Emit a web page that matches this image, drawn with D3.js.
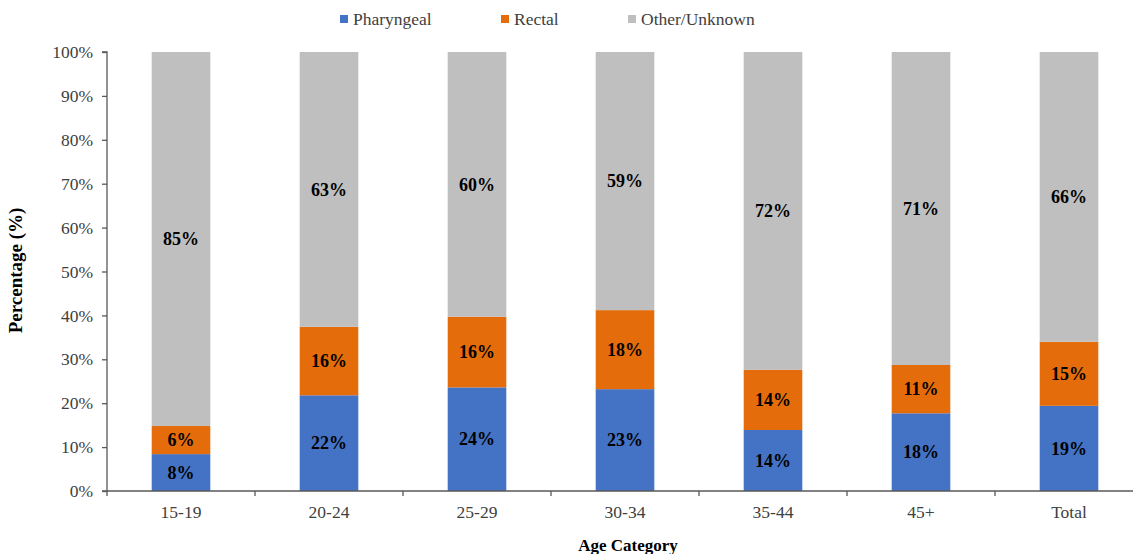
<!DOCTYPE html>
<html>
<head>
<meta charset="utf-8">
<script src="https://cdn.jsdelivr.net/npm/d3@7"></script>
<style>
  html, body { margin: 0; padding: 0; background: #fff; }
  svg { display: block; }
  svg text { font-family: "Liberation Serif", "DejaVu Serif", serif; }
</style>
</head>
<body>
<svg id="chart" width="1133" height="554"></svg>
<script>
// Age groups and share of infection site (%)
const categories = ["15-19", "20-24", "25-29", "30-34", "35-44", "45+", "Total"];
const pharyngeal = [8.4, 21.8, 23.6, 23.2, 13.9, 17.7, 19.4];
const rectal     = [6.4, 15.6, 16.1, 18.0, 13.7, 11.0, 14.6];
const other      = [85.2, 62.6, 60.3, 58.8, 72.4, 71.3, 66.0];
const seriesNames = ["Pharyngeal", "Rectal", "Other/Unknown"];
const yTicks = [0, 10, 20, 30, 40, 50, 60, 70, 80, 90, 100];

const colors = ["#4472C4", "#E46C0A", "#BFBFBF"];
const serif = "'Liberation Serif', serif";

const rows = categories.map((c, i) => ({
  cat: c,
  "Pharyngeal": pharyngeal[i],
  "Rectal": rectal[i],
  "Other/Unknown": other[i]
}));

const svg = d3.select("#chart");
const plotLeft = 107, plotTop = 52, plotBottom = 491, step = 148;

const x = d3.scaleBand()
  .domain(categories)
  .range([plotLeft, plotLeft + step * categories.length])
  .paddingInner(0).paddingOuter(0);
const y = d3.scaleLinear().domain([0, 100]).range([plotBottom, plotTop]);
const barW = step * 0.396;

const stack = d3.stack().keys(seriesNames)(rows);

const groups = svg.append("g").selectAll("g")
  .data(stack).join("g")
  .attr("fill", (d, i) => colors[i]);

groups.selectAll("rect")
  .data(d => d.map(s => ({ s, cat: s.data.cat })))
  .join("rect")
  .attr("x", d => x(d.cat) + (step - barW) / 2)
  .attr("width", barW)
  .attr("y", d => y(d.s[1]))
  .attr("height", d => y(d.s[0]) - y(d.s[1]));

// Value labels centred in each segment
const fmt = v => Math.round(v) + "%";
groups.selectAll("text")
  .data(d => d.map(s => ({ s, cat: s.data.cat })))
  .join("text")
  .attr("x", d => x(d.cat) + step / 2)
  .attr("y", d => (y(d.s[0]) + y(d.s[1])) / 2)
  .attr("dy", "0.35em")
  .attr("text-anchor", "middle")
  .attr("fill", "#000")
  .style("font-family", serif)
  .style("font-size", "18px")
  .style("font-weight", "bold")
  .text(d => fmt(d.s[1] - d.s[0]));

// Y axis
const yAxis = d3.axisLeft(y)
  .tickValues(yTicks)
  .tickFormat(d => d + "%")
  .tickSize(5)
  .tickPadding(9);
const gy = svg.append("g").attr("transform", `translate(${plotLeft},0)`).call(yAxis);
gy.attr("font-family", null);
gy.select(".domain").attr("stroke", "#595959").attr("stroke-width", 1.3).attr("d", `M-5,${plotTop}H0V${plotBottom}H-5`);
gy.selectAll(".tick line").attr("stroke", "#595959").attr("stroke-width", 1.3);
gy.selectAll(".tick text")
  .style("font-family", serif)
  .style("font-size", "17.5px")
  .attr("fill", "#404040");

// X axis: baseline with ticks between categories
const gx = svg.append("g").attr("transform", `translate(0,${plotBottom})`);
gx.append("line")
  .attr("x1", plotLeft).attr("x2", plotLeft + step * categories.length)
  .attr("stroke", "#595959").attr("stroke-width", 1.3);
gx.selectAll("line.sep")
  .data(categories.slice(0, -1).map(c => x(c) + step).concat([plotLeft]))
  .join("line")
  .attr("class", "sep")
  .attr("x1", d => d).attr("x2", d => d)
  .attr("y1", 0).attr("y2", 5)
  .attr("stroke", "#595959").attr("stroke-width", 1.3);
gx.selectAll("text")
  .data(categories)
  .join("text")
  .attr("x", d => x(d) + step / 2)
  .attr("y", 27)
  .attr("text-anchor", "middle")
  .attr("fill", "#404040")
  .style("font-family", serif)
  .style("font-size", "17.5px")
  .text(d => d);

// Axis titles
svg.append("text")
  .attr("x", 628)
  .attr("y", 551)
  .attr("text-anchor", "middle")
  .style("font-family", serif)
  .style("font-size", "17px")
  .style("font-weight", "bold")
  .attr("fill", "#000")
  .text("Age Category");

svg.append("text")
  .attr("transform", `translate(22,${(plotTop + plotBottom) / 2 - 1}) rotate(-90)`)
  .attr("text-anchor", "middle")
  .style("font-family", serif)
  .style("font-size", "19px")
  .style("font-weight", "bold")
  .attr("fill", "#000")
  .text("Percentage (%)");

// Legend
const legendX = [340, 501, 628];
const legend = svg.append("g").selectAll("g")
  .data(seriesNames).join("g")
  .attr("transform", (d, i) => `translate(${legendX[i]},19)`);
legend.append("rect")
  .attr("x", 0).attr("y", -4).attr("width", 8).attr("height", 8)
  .attr("fill", (d, i) => colors[i]);
legend.append("text")
  .attr("x", 13).attr("y", 0).attr("dy", "0.35em")
  .attr("fill", "#404040")
  .style("font-family", serif)
  .style("font-size", "17.5px")
  .text(d => d);
</script>
</body>
</html>
